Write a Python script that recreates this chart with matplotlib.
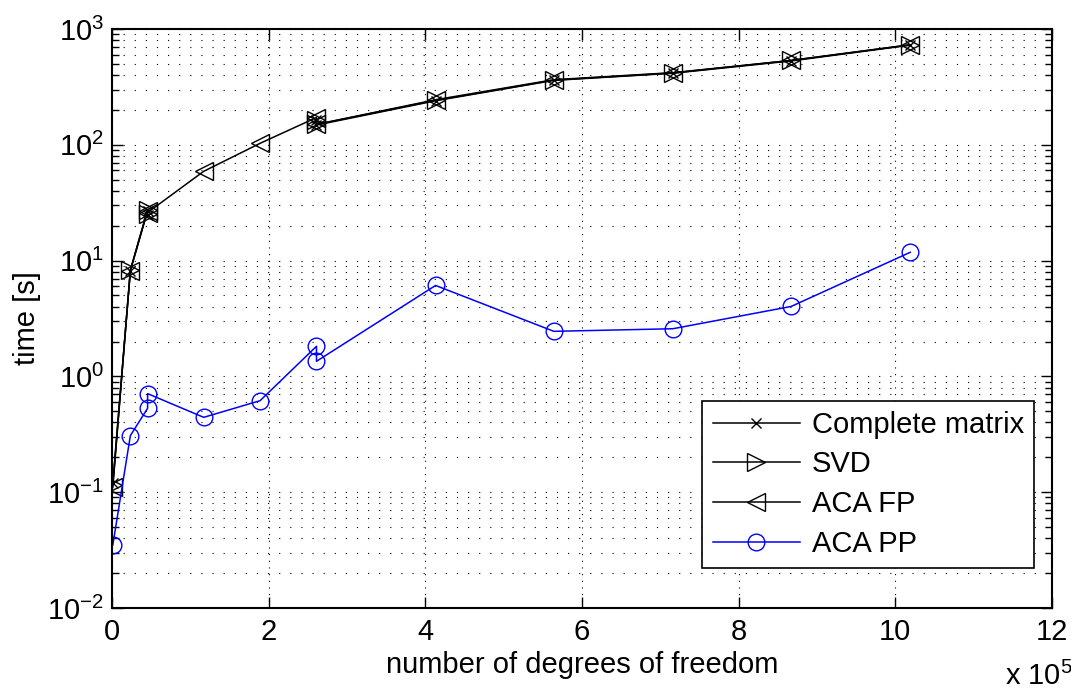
import numpy as np
import matplotlib
matplotlib.use("Agg")
import matplotlib.pyplot as plt
from matplotlib.ticker import FixedLocator, FuncFormatter, LogLocator, NullFormatter

plt.rcParams["font.family"] = ["Liberation Sans", "DejaVu Sans"]
plt.rcParams["mathtext.fontset"] = "custom"
plt.rcParams["mathtext.rm"] = "Liberation Sans"
plt.rcParams["mathtext.it"] = "Liberation Sans"

# degrees of freedom
dof = [1.0e3, 2.34e4, 4.54e4, 4.54e4, 1.17e5, 1.89e5, 2.61e5, 2.61e5,
       4.13e5, 5.64e5, 7.16e5, 8.67e5, 1.019e6]

# computation time [s]
t_complete = [0.12, 8.2, 27.0, 25.0, np.nan, np.nan, 165, 148, 240, 360, 415, 530, 725]
t_svd = [0.115, 8.3, 27.5, 25.5, np.nan, np.nan, 163, 150, 245, 365, 420, 535, 730]
t_aca_fp = [0.11, 8.2, 27.0, 26.0, 59, 103, 172, 150, 242, 362, 417, 536, 731]
t_aca_pp = [0.035, 0.308, 0.53, 0.71, 0.443, 0.617, 1.82, 1.35, 6.1, 2.45, 2.58, 4.02, 11.8]

FS = 21

fig = plt.figure(figsize=(10.71, 6.99), dpi=100)
ax = fig.add_axes([0.1046, 0.1302, 0.8777, 0.8283])

lw = 1.1
ax.plot(dof, t_complete, color="k", lw=lw, marker="x", ms=7, mew=1.0, label="Complete matrix")
ax.plot(dof, t_svd, color="k", lw=lw, marker=">", ms=13, mew=1.0, mfc="none", label="SVD")
ax.plot(dof, t_aca_fp, color="k", lw=lw, marker="<", ms=13, mew=1.0, mfc="none", label="ACA FP")
ax.plot(dof, t_aca_pp, color="b", lw=lw, marker="o", ms=12, mew=1.0, mfc="none", label="ACA PP")

ax.set_yscale("log")
ax.set_ylim(1e-2, 1e3)
ax.set_xlim(0, 1.2e6)
ax.xaxis.set_major_locator(FixedLocator(np.arange(0, 12.1, 2) * 1e5))
ax.xaxis.set_major_formatter(FuncFormatter(lambda v, p: f"{v / 1e5:g}"))
ax.yaxis.set_major_locator(LogLocator(base=10, numticks=10))
ax.yaxis.set_minor_locator(LogLocator(base=10, subs=np.arange(2, 10), numticks=10))
ax.yaxis.set_minor_formatter(NullFormatter())

ax.tick_params(which="both", direction="in", top=True, right=True, labelsize=FS)
ax.tick_params(which="major", length=8, width=1.0)
ax.tick_params(which="minor", length=5, width=1.0)
ax.tick_params(axis="x", pad=7)
ax.tick_params(axis="y", pad=6)
for s in ax.spines.values():
    s.set_linewidth(1.5)

ax.grid(True, which="major", axis="x", linestyle=(0, (1, 5)), color="k", lw=0.8)
ax.grid(True, which="major", axis="y", linestyle=(0, (1, 9)), color="k", lw=0.8)
ax.grid(True, which="minor", axis="y", linestyle=(0, (1, 9)), color="k", lw=0.8)

ax.set_xlabel("number of degrees of freedom", fontsize=FS, labelpad=4)
ax.set_ylabel("time [s]", fontsize=FS, labelpad=4)
fig.text(0.938, 0.012, r"x $10^{5}$", fontsize=FS, ha="left", va="bottom")

leg = ax.legend(loc="lower right", bbox_to_anchor=(0.981, 0.069), fontsize=FS,
                fancybox=False, framealpha=1, edgecolor="k", handlelength=3.0,
                handletextpad=0.4, labelspacing=0.4, borderaxespad=0.0,
                borderpad=0.35)
leg.get_frame().set_linewidth(1.2)

fig.savefig("out.png", dpi=100)
